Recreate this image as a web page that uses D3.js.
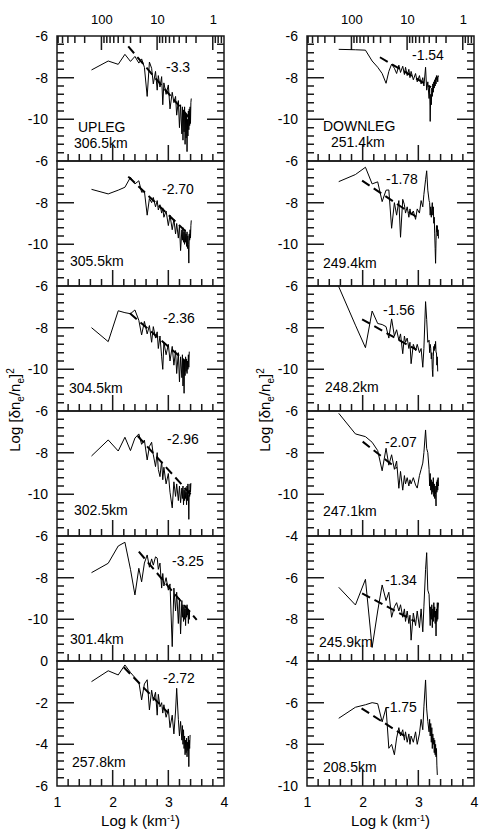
<!DOCTYPE html>
<html>
<head>
<meta charset="utf-8">
<script src="https://cdn.jsdelivr.net/npm/d3@7"></script>
<style>
  body { margin: 0; background: #fff; }
  svg { font-family: "Liberation Sans", Arial, sans-serif; }
</style>
</head>
<body>
<div id="chart"></div>
<script>
// log k grids (harmonics of the lowest wavenumber)
const logK_up = [1.62,1.92,2.10,2.22,2.32,2.40,2.47,2.52,2.57,2.62,2.66,2.70,2.73,2.77,2.80,2.82,2.85,2.88,2.90,2.92,
  2.96,3.00,3.03,3.07,3.10,3.13,3.15,3.18,3.20,3.22,
  3.243,3.253,3.263,3.273,3.283,3.292,3.301,3.310,3.319,3.328,3.336,3.344,3.352,3.360,3.368,3.376,3.383,3.391,3.398,3.405,3.412];
const logK_down = [1.57,1.87,2.05,2.17,2.27,2.35,2.42,2.47,2.52,2.57,2.61,2.65,2.68,2.72,2.75,2.77,2.80,2.83,2.85,2.87,
  2.91,2.95,2.98,3.02,3.05,3.08,3.10,3.13,3.15,3.17,
  3.193,3.203,3.213,3.223,3.233,3.242,3.251,3.260,3.269,3.278,3.286,3.294,3.302,3.310,3.318,3.326,3.333,3.341,3.348,3.355,3.362];

// upleg spectra
const up306 = [-7.63,-7.20,-7.36,-6.88,-7.22,-6.98,-7.30,-7.10,-7.50,-8.90,-7.25,-7.55,-8.30,-7.70,-8.60,-7.90,-8.45,-7.95,-9.30,-8.25,
  -8.80,-8.35,-9.50,-8.70,-9.20,-8.90,-9.80,-9.10,-10.40,-9.30,
  -10.70,-9.40,-11.00,-9.60,-10.60,-9.40,-11.20,-9.70,-10.90,-9.80,-11.55,-10.00,-10.80,-9.60,-10.50,-9.50,-10.30,-9.40,-10.20,-9.20,-9.00];
const up305 = [-7.36,-7.58,-7.40,-7.26,-6.78,-7.10,-6.95,-7.50,-7.45,-8.60,-7.80,-8.00,-7.75,-8.20,-7.90,-8.35,-8.10,-8.50,-8.25,-8.70,
  -8.40,-9.10,-8.60,-9.30,-8.80,-9.50,-9.00,-9.70,-9.10,-10.30,
  -9.30,-9.80,-9.20,-9.90,-9.40,-10.00,-9.30,-9.90,-9.50,-10.10,-9.40,-10.20,-9.60,-10.00,-10.90,-9.50,-9.80,-9.30,-9.70,-9.10,-8.85];
const up304 = [-8.00,-8.67,-7.19,-7.28,-7.33,-7.15,-7.65,-8.35,-7.70,-8.30,-7.90,-8.70,-7.95,-8.50,-8.20,-9.00,-8.40,-9.40,-10.00,-8.70,
  -9.30,-8.80,-9.60,-8.90,-9.80,-9.10,-10.20,-9.20,-10.60,-9.40,
  -10.40,-9.30,-10.80,-9.50,-11.15,-9.60,-10.30,-9.40,-10.10,-9.50,-10.20,-9.60,-10.00,-9.30,-9.90,-9.15];
const up302 = [-8.16,-7.39,-7.92,-7.26,-7.90,-7.30,-7.10,-7.60,-7.40,-8.35,-7.70,-7.50,-8.10,-8.67,-8.00,-8.80,-9.15,-8.40,-9.30,-8.70,
  -9.50,-9.00,-9.90,-10.65,-9.40,-10.10,-9.50,-10.30,-9.60,-10.40,
  -9.70,-10.20,-9.60,-10.50,-9.80,-10.30,-9.70,-10.20,-9.90,-10.50,-9.60,-10.30,-9.50,-10.00,-11.20,-9.80,-10.10,-9.50,-9.90,-9.46];
const up301 = [-7.76,-7.31,-6.48,-6.30,-7.60,-8.83,-7.55,-8.20,-7.30,-6.91,-7.50,-7.10,-7.40,-7.00,-7.06,-7.60,-7.30,-8.50,-7.80,-8.40,
  -8.00,-8.60,-8.30,-11.31,-8.50,-9.60,-8.70,-10.20,-9.00,-10.70,
  -9.10,-9.90,-9.30,-10.10,-9.40,-10.00,-9.50,-10.30,-9.40,-9.90,-9.30,-9.80,-9.50,-10.20,-9.60,-10.00,-9.55];
const up257 = [-0.99,-0.47,-0.67,-0.19,-0.55,-0.80,-1.00,-1.87,-1.10,-0.90,-2.35,-1.40,-1.90,-1.50,-2.60,-1.60,-2.20,-2.00,-2.50,-2.10,
  -2.70,-2.30,-3.20,-2.60,-3.50,-2.40,-1.31,-2.80,-3.60,-2.90,
  -3.80,-3.10,-4.00,-3.30,-4.20,-3.60,-4.50,-3.80,-4.40,-3.70,-4.60,-3.90,-4.30,-3.60,-5.07,-3.80,-4.20,-3.55];

// downleg spectra
const down251 = [-6.64,-6.66,-6.68,-7.20,-7.50,-7.80,-8.27,-7.70,-7.35,-7.55,-7.80,-7.40,-7.75,-7.45,-7.85,-7.50,-7.90,-7.60,-8.00,-7.70,
  -8.10,-7.80,-8.20,-7.90,-8.30,-8.00,-8.40,-7.50,-8.60,-8.20,
  -9.00,-8.40,-10.10,-8.80,-9.30,-8.50,-8.90,-8.30,-8.70,-8.20,-8.50,-8.10,-8.40,-8.00,-8.30,-7.90,-8.10,-7.95,-8.20,-7.90,-7.95];
const down249 = [-6.99,-6.65,-6.30,-7.10,-7.00,-7.95,-7.40,-7.39,-9.23,-8.00,-8.60,-7.90,-9.66,-7.84,-8.10,-8.50,-8.20,-8.70,-8.30,-8.60,
  -8.40,-8.80,-8.30,-8.50,-7.90,-8.20,-7.60,-6.90,-6.47,-7.40,
  -7.90,-8.00,-8.60,-8.20,-8.70,-8.30,-8.00,-8.60,-8.20,-8.99,-8.70,-9.50,-10.20,-10.91,-9.80,-9.10,-9.40,-9.10,-9.60,-9.30,-9.72];
const down248 = [-6.03,-7.88,-8.96,-7.20,-7.80,-7.85,-7.95,-8.50,-7.58,-8.40,-8.10,-8.60,-8.30,-9.25,-8.40,-8.70,-8.50,-9.00,-8.70,-9.73,
  -8.80,-9.10,-8.80,-9.20,-9.00,-9.90,-9.00,-6.75,-7.60,-8.70,
  -8.60,-9.20,-8.80,-9.00,-9.50,-9.20,-10.00,-10.35,-9.40,-8.90,-9.10,-8.80,-9.00,-8.66,-9.20,-9.20,-9.80,-9.40,-10.10];
const down247 = [-6.11,-7.10,-7.23,-7.50,-7.90,-8.87,-7.79,-8.60,-8.10,-8.80,-8.40,-9.71,-8.90,-9.80,-9.10,-9.50,-9.20,-9.60,-9.30,-9.50,
  -9.20,-9.55,-9.70,-9.10,-8.80,-8.50,-8.00,-6.91,-7.80,-8.00,
  -8.80,-9.60,-9.00,-9.80,-9.30,-10.00,-9.40,-9.90,-9.20,-10.10,-9.50,-10.20,-9.60,-10.00,-10.56,-9.40,-9.90,-9.30,-9.80,-9.20,-9.60];
const down245 = [-6.46,-7.31,-6.08,-9.35,-7.60,-6.35,-7.10,-6.70,-7.90,-7.40,-7.20,-7.60,-7.30,-7.90,-7.50,-8.10,-7.60,-8.20,-7.80,-9.00,
  -7.70,-8.30,-7.60,-8.40,-7.50,-8.60,-7.40,-5.60,-4.80,-6.60,
  -6.80,-7.60,-8.30,-7.40,-8.00,-7.30,-8.40,-7.50,-8.10,-7.20,-7.90,-7.40,-8.20,-7.60,-8.80,-7.50,-8.10,-7.20,-8.00,-7.50,-7.20];
const down208 = [-6.75,-6.22,-6.10,-6.00,-6.05,-6.92,-6.25,-8.19,-8.00,-8.50,-7.70,-7.20,-7.60,-7.30,-7.80,-7.40,-7.90,-7.50,-8.00,-7.60,
  -7.90,-7.40,-8.00,-7.50,-6.80,-7.30,-6.20,-4.91,-6.30,-6.90,
  -7.40,-6.80,-7.60,-7.00,-7.90,-7.20,-8.20,-7.50,-8.00,-7.70,-8.40,-7.80,-8.50,-8.00,-8.60,-8.20,-9.00,-9.47];

// power-law fits: [log k, value] at both ends
const fit_up = [
  [[2.28,-6.50],[3.40,-10.00]],
  [[2.28,-6.75],[3.38,-9.55]],
  [[2.31,-7.31],[3.30,-9.60]],
  [[2.45,-7.20],[3.40,-10.00]],
  [[2.47,-6.75],[3.51,-10.03]],
  [[2.20,-0.30],[3.00,-2.50]]
];
const fit_down = [
  [[2.31,-7.02],[3.23,-8.46]],
  [[1.99,-6.94],[3.00,-8.75]],
  [[1.99,-7.60],[2.97,-9.07]],
  [[2.00,-7.47],[2.61,-8.75]],
  [[1.99,-6.75],[2.94,-8.10]],
  [[1.98,-6.27],[2.79,-7.66]]
];

const slopes_up = ["-3.3","-2.70","-2.36","-2.96","-3.25","-2.72"];
const slopes_down = ["-1.54","-1.78","-1.56","-2.07","-1.34","-1.75"];
const alt_up = ["306.5km","305.5km","304.5km","302.5km","301.4km","257.8km"];
const alt_down = ["251.4km","249.4km","248.2km","247.1km","245.9km","208.5km"];
const domains_up = [[-12,-6],[-12,-6],[-12,-6],[-12,-6],[-12,-6],[-6,0]];
const domains_down = [[-12,-6],[-12,-6],[-12,-6],[-12,-6],[-10,-4],[-10,-4]];
const xTicks = [1,2,3,4];
const lambdaMajor = [100,10,1];

// label placement inside each panel (px from frame left / panel top)
const slopePos = [
  [[109,31],[105,28],[106,32],[110,28],[115,25],[106,17]],
  [[105,19],[79,18],[76,24],[78,31],[78,44],[78,46]]
];
const altPos = [
  [[17,107],[13,100],[12,102],[17,99],[13,103],[15,101]],
  [[24,106],[16,102],[18,101],[16,100],[12,106],[16,106]]
];
const legPos = [[21,91],[16,90]];

const columns = [
  {k: logK_up, series: [up306,up305,up304,up302,up301,up257], fits: fit_up, slopes: slopes_up, alts: alt_up, domains: domains_up, leg: "UPLEG"},
  {k: logK_down, series: [down251,down249,down248,down247,down245,down208], fits: fit_down, slopes: slopes_down, alts: alt_down, domains: domains_down, leg: "DOWNLEG"}
];

const width = 485, height = 830;
const colLeft = [57, 307], panelW = 167, panelH = 125, top0 = 36;
const frameColor = "#1a1a1a";

const svg = d3.select("#chart").append("svg")
  .attr("width", width)
  .attr("height", height);

function styleAxis(g, size) {
  g.select(".domain").remove();
  g.selectAll("line").remove();
  g.selectAll("text").attr("fill", "#000").attr("font-size", size)
    .attr("font-family", '"Liberation Sans", Arial, sans-serif');
}

columns.forEach((col, ci) => {
  const x = d3.scaleLinear().domain([1, 4]).range([colLeft[ci], colLeft[ci] + panelW]);

  col.series.forEach((vals, pi) => {
    const y0 = top0 + pi * panelH;
    const dom = col.domains[pi];
    const y = d3.scaleLinear().domain(dom).range([y0 + panelH, y0]);
    const last = pi === col.series.length - 1;
    const g = svg.append("g");

    const minorY = [], majorY = [], minorX = [];
    for (let i = 0; i <= 15; i++) minorY.push(dom[0] + i * 0.4);
    for (let v = dom[0]; v <= dom[1]; v += 2) majorY.push(v);
    for (let i = 0; i <= 15; i++) minorX.push(1 + i * 0.2);

    // frame and inward ticks as one path
    const p = d3.path();
    p.rect(x(1), y0, x(4) - x(1), panelH);
    minorY.forEach(v => {
      p.moveTo(x(1), y(v)); p.lineTo(x(1) + 7, y(v));
      p.moveTo(x(4), y(v)); p.lineTo(x(4) - 7, y(v));
    });
    majorY.forEach(v => {
      p.moveTo(x(1), y(v)); p.lineTo(x(1) + 17, y(v));
      p.moveTo(x(4), y(v)); p.lineTo(x(4) - 17, y(v));
    });
    minorX.forEach(v => { p.moveTo(x(v), y0 + panelH); p.lineTo(x(v), y0 + panelH - 7); });
    [2, 3].forEach(v => { p.moveTo(x(v), y0 + panelH); p.lineTo(x(v), y0 + panelH - 16); });

    // top wavelength axis (km) on first panel
    if (pi === 0) {
      const lam = d3.scaleLog().domain([6283.2 / 10, 6283.2 / 10000]).range([x(1), x(4)]);
      lam.ticks().forEach(t => {
        const len = lambdaMajor.includes(t) ? 14 : 7;
        p.moveTo(lam(t), y0); p.lineTo(lam(t), y0 + len);
      });
      g.append("g").attr("transform", `translate(0,${y0})`)
        .call(d3.axisTop(lam).tickValues(lambdaMajor).tickSize(0).tickPadding(12.5).tickFormat(d3.format("d")))
        .call(a => styleAxis(a, 13));
    }

    g.append("path")
      .attr("d", p.toString())
      .attr("fill", "none")
      .attr("stroke", frameColor)
      .attr("stroke-width", 1.5);

    // y labels
    g.append("g").attr("transform", `translate(${x(1)},0)`)
      .call(d3.axisLeft(y).tickValues(majorY).tickSize(0).tickPadding(9)
        .tickFormat(d => (d === dom[0] && !last) ? "" : d3.format("d")(d).replace("\u2212", "-")))
      .call(a => styleAxis(a, 14));

    if (last) {
      g.append("g").attr("transform", `translate(0,${y0 + panelH})`)
        .call(d3.axisBottom(x).tickValues(xTicks).tickSize(0).tickPadding(11).tickFormat(d3.format("d")))
        .call(a => styleAxis(a, 14));
    }

    // spectrum
    const pts = vals.map((v, i) => [col.k[i], v]);
    g.append("path")
      .datum(pts)
      .attr("fill", "none")
      .attr("stroke", "#000")
      .attr("stroke-width", 1)
      .attr("d", d3.line().x(d => x(d[0])).y(d => y(d[1])));

    // fit line
    g.append("path")
      .datum(col.fits[pi])
      .attr("fill", "none")
      .attr("stroke", "#000")
      .attr("stroke-width", 2)
      .attr("stroke-dasharray", "9,5")
      .attr("d", d3.line().x(d => x(d[0])).y(d => y(d[1])));

    // labels
    g.append("text")
      .attr("x", x(1) + slopePos[ci][pi][0])
      .attr("y", y0 + slopePos[ci][pi][1])
      .attr("dy", "0.35em")
      .attr("font-size", 14)
      .text(col.slopes[pi]);
    g.append("text")
      .attr("x", x(1) + altPos[ci][pi][0])
      .attr("y", y0 + altPos[ci][pi][1])
      .attr("dy", "0.35em")
      .attr("font-size", 14)
      .text(col.alts[pi]);
    if (pi === 0) {
      g.append("text")
        .attr("x", x(1) + legPos[ci][0])
        .attr("y", y0 + legPos[ci][1])
        .attr("dy", "0.35em")
        .attr("font-size", 14)
        .text(col.leg);
    }
  });

  // x title
  const xt = svg.append("text")
    .attr("x", (x(1) + x(4)) / 2)
    .attr("y", 826)
    .attr("text-anchor", "middle")
    .attr("font-size", 15);
  xt.append("tspan").text("Log k (km");
  xt.append("tspan").attr("font-size", 9).attr("dy", -5).text("-1");
  xt.append("tspan").attr("dy", 5).text(")");

  // y title
  const yt = svg.append("text")
    .attr("transform", `translate(${colLeft[ci] - 37},410) rotate(-90)`)
    .attr("text-anchor", "middle")
    .attr("font-size", 15);
  yt.append("tspan").text("Log [\u03b4n");
  yt.append("tspan").attr("font-size", 10).attr("dy", 4).text("e");
  yt.append("tspan").attr("dy", -4).text("/n");
  yt.append("tspan").attr("font-size", 10).attr("dy", 4).text("e");
  yt.append("tspan").attr("dy", -4).text("]");
  yt.append("tspan").attr("font-size", 10).attr("dy", -6).text("2");
});
</script>
</body>
</html>
